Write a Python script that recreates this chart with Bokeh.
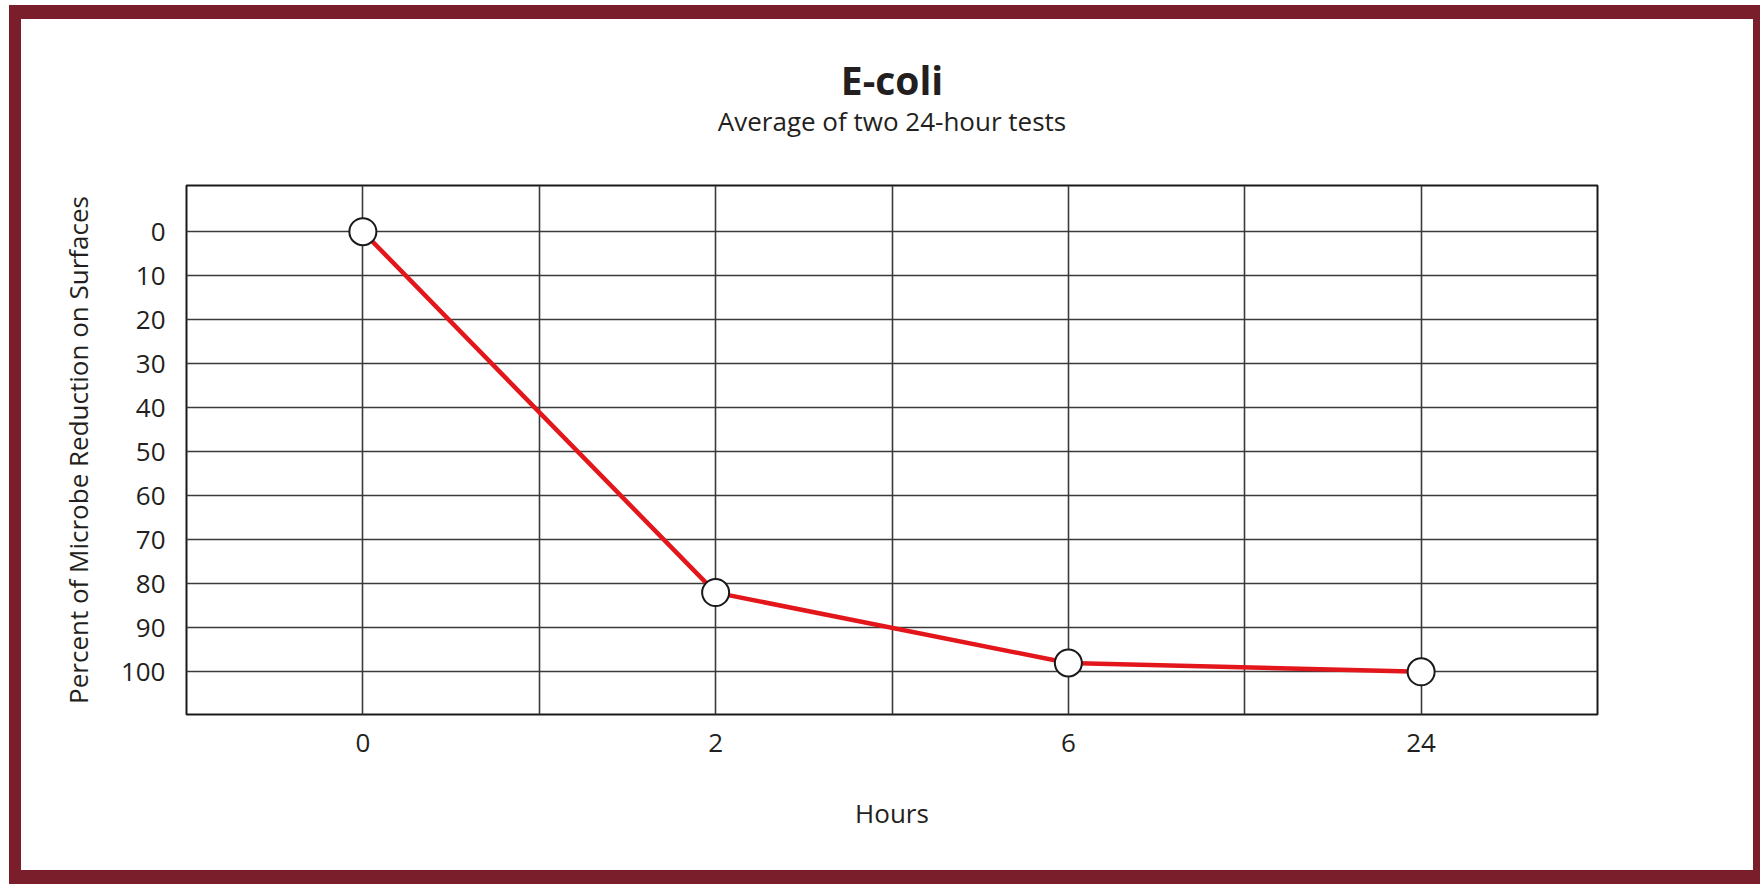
from bokeh.plotting import figure
from bokeh.models import Range1d, FixedTicker, Title
from bokeh.embed import file_html
from bokeh.resources import INLINE

# ---- data ----
hours = ["0", "2", "6", "24"]
reduction = [0, 82, 98, 100]
y_ticks = [0, 10, 20, 30, 40, 50, 60, 70, 80, 90, 100]
title_text = "E-coli"
subtitle_text = "Average of two 24-hour tests"
x_label = "Hours"
y_label = "Percent of Microbe Reduction on Surfaces"

x_idx = list(range(len(hours)))
grid_ticks = [i / 2 for i in range(2 * len(hours) - 1)]

FONT = "Open Sans"
TXT = "#231f20"
MAROON = "#7a1e2b"

W, H = 1751, 879
p = figure(width=W, height=H, output_backend="svg", toolbar_location=None,
           x_range=Range1d(-0.5, len(hours) - 0.5), y_range=Range1d(109.7, -10.5),
           min_border_left=165, min_border_right=175, min_border_top=166, min_border_bottom=184,
           background_fill_color="white", border_fill_color="white")
p.styles = {"border-style": "solid", "border-color": MAROON,
            "border-width": "14px 7px 14px 12px", "box-sizing": "border-box",
            "margin": "5px 0px 0px 9px"}

p.outline_line_color = "#1a1a1a"
p.outline_line_width = 2

# grids
p.xgrid.ticker = FixedTicker(ticks=grid_ticks)
p.ygrid.ticker = FixedTicker(ticks=y_ticks)
for g in (p.xgrid, p.ygrid):
    g.grid_line_color = "#3a3a3a"
    g.grid_line_width = 1.6

# axes
p.xaxis.ticker = FixedTicker(ticks=x_idx)
p.xaxis.major_label_overrides = {i: h for i, h in zip(x_idx, hours)}
p.yaxis.ticker = FixedTicker(ticks=y_ticks)
for ax in (p.xaxis, p.yaxis):
    ax.axis_line_color = None
    ax.major_tick_line_color = None
    ax.minor_tick_line_color = None
    ax.major_label_text_font = FONT
    ax.major_label_text_font_size = "26px"
    ax.major_label_text_color = TXT
    ax.axis_label_text_font = FONT
    ax.axis_label_text_font_size = "26px"
    ax.axis_label_text_font_style = "normal"
    ax.axis_label_text_color = TXT
p.xaxis.axis_label = x_label
p.yaxis.axis_label = y_label
p.xaxis.major_label_standoff = 13
p.xaxis.axis_label_standoff = 40
p.yaxis.major_label_standoff = 15
p.yaxis.axis_label_standoff = 22

# series
p.line(x_idx, reduction, line_color="#e3161b", line_width=4.5)
p.scatter(x_idx, reduction, size=27, fill_color="white", line_color="#1a1a1a", line_width=2)

# titles (subtitle first: nearest to the frame)
p.add_layout(Title(text=subtitle_text, align="center", text_font=FONT, text_font_size="26px",
                   text_font_style="normal", text_color=TXT, standoff=94), "above")
p.add_layout(Title(text=title_text, align="center", text_font=FONT, text_font_size="39px",
                   text_font_style="bold", text_color=TXT, standoff=-105), "above")

open("out.html", "w").write(file_html(p, INLINE))
